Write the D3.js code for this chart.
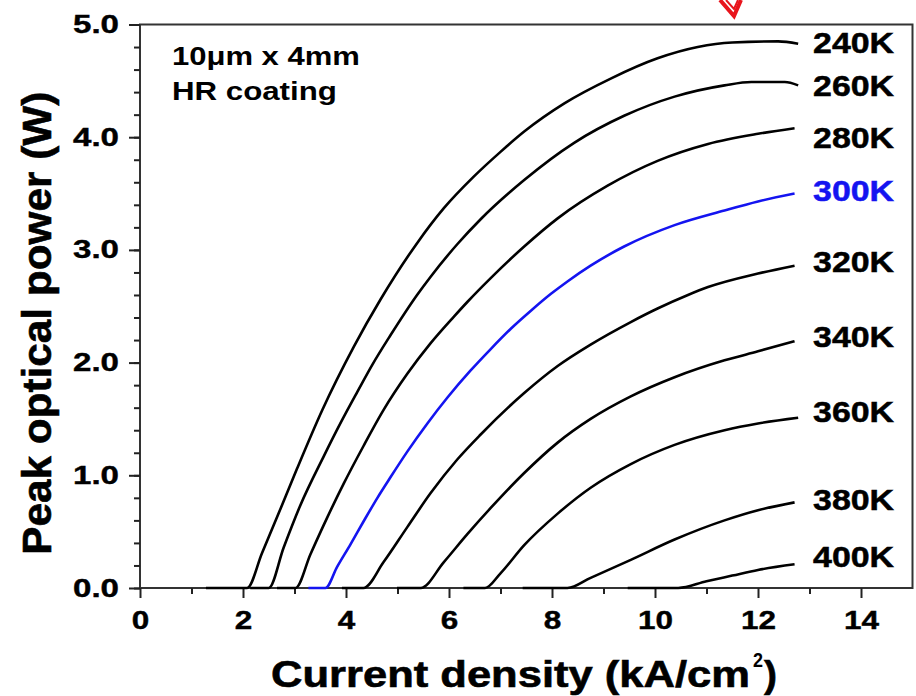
<!DOCTYPE html>
<html>
<head>
<meta charset="utf-8">
<script src="https://cdn.jsdelivr.net/npm/d3@7"></script>
<style>
  body { margin: 0; background: #fff; }
  svg { display: block; }
  text { font-family: "Liberation Sans", Arial, sans-serif; font-weight: bold; fill: #000; }
</style>
</head>
<body>
<svg id="chart" width="916" height="696"></svg>
<script>
// temperature labels, one curve each
var temps = ["240K", "260K", "280K", "300K", "320K", "340K", "360K", "380K", "400K"];

// [current density kA/cm2, peak power W]
var k240 = [[1.28,0],[2.08,0],[2.37,0.31],[2.69,0.66],[3.05,1.06],[3.54,1.58],[4.15,2.14],[4.67,2.56],[5.38,3.06],[5.90,3.37],[6.48,3.65],[7.00,3.87],[7.46,4.05],[8.24,4.30],[9.14,4.52],[10.05,4.70],[10.83,4.80],[11.5,4.84],[12.39,4.85],[12.78,4.83]];
var k260 = [[2.14,0],[2.50,0],[2.79,0.36],[3.11,0.73],[3.57,1.17],[3.89,1.46],[4.22,1.74],[4.51,1.98],[4.86,2.24],[5.38,2.60],[5.64,2.76],[6.16,3.05],[6.61,3.27],[7.46,3.62],[8.43,3.95],[9.40,4.19],[10.38,4.36],[11.35,4.46],[11.87,4.49],[12.52,4.49],[12.78,4.46]];
var k280 = [[2.66,0],[3.02,0],[3.31,0.30],[3.63,0.62],[3.96,0.93],[4.34,1.26],[4.73,1.58],[5.19,1.90],[5.64,2.17],[6.10,2.41],[6.36,2.54],[6.81,2.75],[7.46,3.03],[8.11,3.28],[9.08,3.57],[10.05,3.79],[11.03,3.94],[12.00,4.03],[12.71,4.08]];
var k300 = [[3.27,0],[3.60,0],[3.83,0.19],[4.09,0.39],[4.34,0.59],[4.61,0.80],[4.86,0.98],[5.19,1.21],[5.58,1.46],[5.97,1.69],[6.42,1.93],[6.81,2.12],[7.20,2.30],[7.59,2.46],[7.98,2.61],[8.30,2.72],[8.75,2.86],[9.40,3.03],[10.38,3.22],[11.35,3.35],[12.00,3.43],[12.71,3.50]];
var k320 = [[3.92,0],[4.34,0],[4.73,0.23],[5.19,0.54],[5.64,0.84],[6.16,1.14],[6.61,1.36],[7.46,1.73],[8.11,1.97],[8.75,2.16],[9.53,2.36],[10.05,2.48],[10.64,2.60],[11.03,2.67],[12.00,2.79],[12.71,2.86]];
var k340 = [[4.99,0],[5.45,0],[5.90,0.23],[6.36,0.48],[6.81,0.71],[7.46,1.02],[8.11,1.29],[8.75,1.50],[9.53,1.70],[10.38,1.87],[11.35,2.02],[12.00,2.10],[12.71,2.19]];
var k360 = [[6.28,0],[6.70,0],[7.00,0.13],[7.46,0.38],[8.11,0.66],[8.75,0.89],[9.53,1.10],[10.38,1.27],[11.35,1.40],[12.00,1.46],[12.78,1.51]];
var k380 = [[7.43,0],[8.30,0],[8.75,0.09],[9.53,0.25],[10.38,0.43],[11.35,0.60],[12.00,0.69],[12.71,0.76]];
var k400 = [[9.47,0],[10.45,0],[11.00,0.06],[11.50,0.11],[12.00,0.16],[12.71,0.21]];

var curves = [k240, k260, k280, k300, k320, k340, k360, k380, k400];
var colors = ["#000", "#000", "#000", "#1414f0", "#000", "#000", "#000", "#000", "#000"];
// where each temperature label sits (power units, baseline)
var labelY = [4.75, 4.37, 3.90, 3.43, 2.80, 2.14, 1.47, 0.69, 0.19];

var xTicks = [0, 2, 4, 6, 8, 10, 12, 14];
var xMinor = d3.range(1, 15, 2);
var yTicks = [0, 1, 2, 3, 4, 5];
var yMinor = d3.range(0, 5.01, 0.2);

var svg = d3.select("#chart");

var x = d3.scaleLinear().domain([0, 15]).range([140, 912.5]);
var y = d3.scaleLinear().domain([0, 5]).range([588, 24.5]);

// plot frame
svg.append("rect")
  .attr("x", x(0)).attr("y", y(5))
  .attr("width", x(15) - x(0)).attr("height", y(0) - y(5))
  .attr("fill", "none").attr("stroke", "#333").attr("stroke-width", 2);

// x axis
var xAxis = svg.append("g")
  .attr("transform", "translate(0," + y(0) + ")")
  .call(d3.axisBottom(x).tickValues(xTicks).tickSize(10).tickPadding(13).tickFormat(d3.format("d")));
svg.append("g")
  .attr("transform", "translate(0," + y(0) + ")")
  .call(d3.axisBottom(x).tickValues(xMinor).tickSize(6).tickFormat(""));

// y axis
var yAxis = svg.append("g")
  .attr("transform", "translate(" + x(0) + ",0)")
  .call(d3.axisLeft(y).tickValues(yTicks).tickSize(11).tickPadding(10).tickFormat(d3.format(".1f")));
svg.append("g")
  .attr("transform", "translate(" + x(0) + ",0)")
  .call(d3.axisLeft(y).tickValues(yMinor).tickSize(6).tickFormat(""));

svg.selectAll(".domain").remove();
svg.selectAll(".tick line").attr("stroke", "#222").attr("stroke-width", 2);

xAxis.selectAll("text")
  .attr("font-size", 25).attr("font-family", null)
  .attr("textLength", function(d) { return String(d).length * 17.5; })
  .attr("lengthAdjust", "spacingAndGlyphs")
  .attr("stroke", "#000").attr("stroke-width", 0.4);
yAxis.selectAll("text")
  .attr("font-size", 25).attr("font-family", null)
  .attr("textLength", 46)
  .attr("lengthAdjust", "spacingAndGlyphs")
  .attr("stroke", "#000").attr("stroke-width", 0.4);

// curves
var line = d3.line()
  .curve(d3.curveMonotoneX)
  .x(function(d) { return x(d[0]); })
  .y(function(d) { return y(d[1]); });

svg.selectAll(".curve")
  .data(curves)
  .enter().append("path")
  .attr("class", "curve")
  .attr("d", line)
  .attr("fill", "none")
  .attr("stroke", function(d, i) { return colors[i]; })
  .attr("stroke-width", 2.6)
  .attr("stroke-linejoin", "round");

// temperature labels
svg.selectAll(".tlabel")
  .data(temps)
  .enter().append("text")
  .attr("class", "tlabel")
  .attr("x", x(13.07))
  .attr("y", function(d, i) { return y(labelY[i]); })
  .attr("font-size", 30)
  .attr("textLength", 81)
  .attr("lengthAdjust", "spacingAndGlyphs")
  .style("fill", function(d, i) { return colors[i]; })
  .attr("stroke", function(d, i) { return colors[i]; })
  .attr("stroke-width", 0.5)
  .text(function(d) { return d; });

// device note
svg.append("text")
  .attr("x", x(0.62)).attr("y", y(4.64))
  .attr("font-size", 25).attr("textLength", 188).attr("lengthAdjust", "spacingAndGlyphs")
  .text("10μm x 4mm");
svg.append("text")
  .attr("x", x(0.62)).attr("y", y(4.33))
  .attr("font-size", 25).attr("textLength", 165).attr("lengthAdjust", "spacingAndGlyphs")
  .text("HR coating");

// axis titles
svg.append("text")
  .attr("transform", "translate(51," + ((y(0) + y(5)) / 2 + 17) + ") rotate(-90)")
  .attr("text-anchor", "middle")
  .attr("font-size", 41).attr("textLength", 463).attr("lengthAdjust", "spacingAndGlyphs")
  .attr("stroke", "#000").attr("stroke-width", 0.6)
  .text("Peak optical power (W)");

svg.append("text")
  .attr("x", 271).attr("y", 687)
  .attr("font-size", 36).attr("textLength", 479).attr("lengthAdjust", "spacingAndGlyphs")
  .attr("stroke", "#000").attr("stroke-width", 0.6)
  .text("Current density (kA/cm");
svg.append("text")
  .attr("x", 753).attr("y", 667)
  .attr("font-size", 20).attr("textLength", 10).attr("lengthAdjust", "spacingAndGlyphs")
  .text("2");
svg.append("text")
  .attr("x", 764).attr("y", 687)
  .attr("font-size", 36).attr("textLength", 13).attr("lengthAdjust", "spacingAndGlyphs")
  .attr("stroke", "#000").attr("stroke-width", 0.6)
  .text(")");

// red marker arrow at the top edge
svg.append("path")
  .attr("d", "M720,0 L734,16 L741,0")
  .attr("fill", "none")
  .attr("stroke", "#e8141c")
  .attr("stroke-width", 4)
  .attr("stroke-linejoin", "miter");
svg.append("path")
  .attr("d", "M726,0 L734,9 L738,0")
  .attr("fill", "none")
  .attr("stroke", "#e8141c")
  .attr("stroke-width", 2);
</script>
</body>
</html>
